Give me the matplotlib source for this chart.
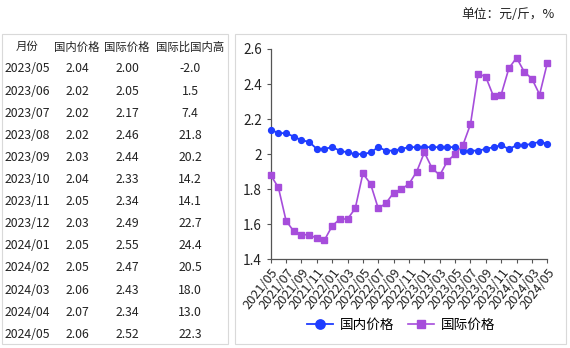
import matplotlib

matplotlib.use("Agg")
import matplotlib.pyplot as plt
import matplotlib.patches as mpatches
import pandas as pd
from matplotlib.ticker import FuncFormatter

plt.rcParams["font.family"] = ["Noto Sans CJK SC", "DejaVu Sans"]

# 月度价格，2021/05 - 2024/05
months = [d.strftime("%Y/%m") for d in pd.date_range("2021-05-01", "2024-05-01", freq="MS")]
domestic = [2.14, 2.12, 2.12, 2.10, 2.08, 2.07, 2.03, 2.03, 2.04, 2.02, 2.01, 2.00,
            2.00, 2.01, 2.04, 2.02, 2.02, 2.03, 2.04, 2.04, 2.04, 2.04, 2.04, 2.04,
            2.04, 2.02, 2.02, 2.02, 2.03, 2.04, 2.05, 2.03, 2.05, 2.05, 2.06, 2.07, 2.06]
international = [1.88, 1.81, 1.62, 1.56, 1.54, 1.54, 1.52, 1.51, 1.59, 1.63, 1.63, 1.69,
                 1.89, 1.83, 1.69, 1.72, 1.78, 1.80, 1.83, 1.90, 2.01, 1.92, 1.88, 1.96,
                 2.00, 2.05, 2.17, 2.46, 2.44, 2.33, 2.34, 2.49, 2.55, 2.47, 2.43, 2.34, 2.52]

# 左侧表格：最近 13 个月
table_header = ["月份", "国内价格", "国际价格", "国际比国内高"]
table_months = months[-13:]
table_domestic = domestic[-13:]
table_international = international[-13:]
table_gap = [-2.0, 1.5, 7.4, 21.8, 20.2, 14.2, 14.1, 22.7, 24.4, 20.5, 18.0, 13.0, 22.3]

BLUE = "#1f3dff"
PURPLE = "#a64ddb"
TXT = "#222222"
W, H = 570, 348

fig = plt.figure(figsize=(5.7, 3.48), dpi=100)


def fx(px):
    return px / W


def fy(py):
    return 1 - py / H


# 两个面板的浅灰边框
for x0, x1 in [(2, 228), (235, 566)]:
    fig.add_artist(mpatches.Rectangle((fx(x0), fy(344)), fx(x1 - x0), (344 - 34) / H,
                                      transform=fig.transFigure, fill=False,
                                      edgecolor="#d9d9d9", linewidth=0.8))

fig.text(fx(555), fy(15), "单位：元/斤，%", ha="right", va="center", fontsize=9.2, color=TXT)

# 表格
col_x = [27, 77, 127, 190]
for cx, h in zip(col_x, table_header):
    fig.text(fx(cx), fy(47), h, ha="center", va="center", fontsize=8.2, color=TXT)
for i in range(len(table_months)):
    y = fy(69 + i * 22.1)
    row = [table_months[i], f"{table_domestic[i]:.2f}", f"{table_international[i]:.2f}",
           f"{table_gap[i]:.1f}"]
    for cx, s in zip(col_x, row):
        fig.text(fx(cx), y, s, ha="center", va="center", fontsize=8.8, color=TXT)

# 折线图
ax = fig.add_axes([fx(270.7), fy(259.3), fx(547.3 - 270.7), (259.3 - 49) / H])
x = range(len(months))
ax.plot(x, domestic, color=BLUE, marker="o", markersize=4.2, linewidth=1.3,
        label="国内价格", clip_on=False, zorder=3)
ax.plot(x, international, color=PURPLE, marker="s", markersize=4.0, linewidth=1.2,
        label="国际价格", clip_on=False, zorder=3)

ax.set_xlim(0, len(months) - 1)
ax.set_ylim(1.4, 2.6)
ax.set_yticks([1.4, 1.6, 1.8, 2.0, 2.2, 2.4, 2.6])
ax.yaxis.set_major_formatter(FuncFormatter(lambda v, _: f"{v:g}"))
ax.set_xticks(list(x)[::2])
ax.set_xticklabels(months[::2], rotation=52, ha="right", rotation_mode="anchor",
                   fontsize=9.2, color=TXT)
ax.tick_params(axis="y", labelsize=9.8, labelcolor=TXT, length=3, color="#555555")
ax.tick_params(axis="x", length=3, color="#555555", pad=2)
for side in ["top", "right"]:
    ax.spines[side].set_visible(False)
for side in ["left", "bottom"]:
    ax.spines[side].set_color("#555555")
    ax.spines[side].set_linewidth(0.9)

ax.legend(loc="center", bbox_to_anchor=(fx(401), fy(325)), bbox_transform=fig.transFigure,
          ncol=2, frameon=False, fontsize=9.8, handlelength=1.9, columnspacing=1.0,
          handletextpad=0.5, markerscale=1.6)

fig.savefig("out.png", dpi=100)
